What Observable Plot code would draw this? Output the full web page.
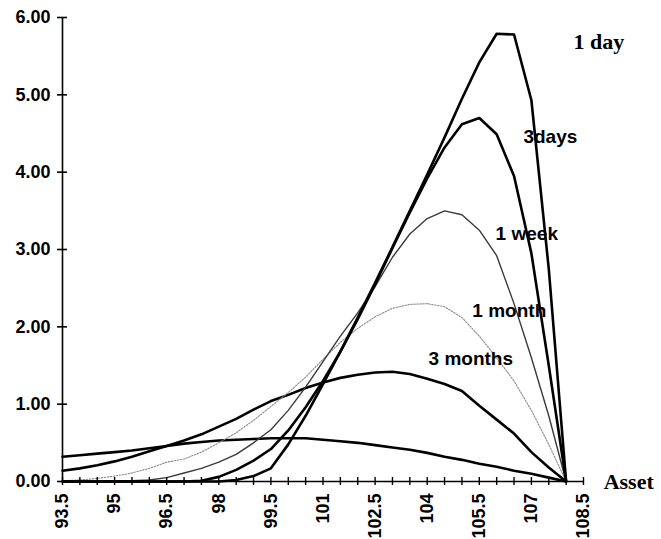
<!DOCTYPE html>
<html>
<head>
<meta charset="utf-8">
<script src="https://cdn.jsdelivr.net/npm/d3@7"></script>
<script src="https://cdn.jsdelivr.net/npm/@observablehq/plot@0.6"></script>
<style>
  html, body { margin: 0; padding: 0; background: #fff; }
  #chart svg { display: block; overflow: visible; }
</style>
</head>
<body>
<div id="chart"></div>
<script>
// Asset price grid (step 0.5)
const assetPrices = [93.5, 94, 94.5, 95, 95.5, 96, 96.5, 97, 97.5, 98, 98.5, 99, 99.5, 100, 100.5,
  101, 101.5, 102, 102.5, 103, 103.5, 104, 104.5, 105, 105.5, 106, 106.5, 107, 107.5, 108];

// Probability density by horizon
const oneDay = [0, 0, 0, 0, 0, 0, 0, 0, 0, 0, 0.02, 0.07, 0.17, 0.48, 0.85,
  1.26, 1.68, 2.12, 2.57, 3.03, 3.50, 3.97, 4.45, 4.95, 5.42, 5.79, 5.78, 4.93, 2.75, 0];
const threeDays = [0, 0, 0, 0, 0, 0, 0, 0, 0.01, 0.06, 0.15, 0.27, 0.42, 0.66, 0.96,
  1.30, 1.68, 2.10, 2.55, 3.02, 3.48, 3.92, 4.32, 4.62, 4.70, 4.49, 3.95, 2.95, 1.50, 0];
const oneWeek = [0, 0, 0, 0.01, 0.01, 0.02, 0.05, 0.11, 0.17, 0.25, 0.35, 0.50, 0.67, 0.92, 1.22,
  1.55, 1.88, 2.18, 2.52, 2.90, 3.20, 3.40, 3.50, 3.45, 3.25, 2.92, 2.30, 1.60, 0.85, 0];
const oneMonth = [0.01, 0.02, 0.04, 0.07, 0.11, 0.17, 0.25, 0.29, 0.38, 0.50, 0.63, 0.79, 0.97, 1.15, 1.35,
  1.58, 1.80, 1.98, 2.13, 2.24, 2.29, 2.30, 2.26, 2.12, 1.88, 1.60, 1.30, 0.92, 0.48, 0];
const threeMonths = [0.14, 0.17, 0.21, 0.26, 0.32, 0.39, 0.46, 0.53, 0.61, 0.71, 0.81, 0.93, 1.04, 1.12, 1.21,
  1.28, 1.34, 1.38, 1.41, 1.42, 1.39, 1.33, 1.26, 1.17, 0.98, 0.80, 0.62, 0.38, 0.18, 0];
const sixMonths = [0.32, 0.34, 0.36, 0.38, 0.40, 0.43, 0.46, 0.49, 0.51, 0.53, 0.54, 0.55, 0.56, 0.56, 0.56,
  0.54, 0.52, 0.50, 0.47, 0.44, 0.41, 0.37, 0.32, 0.28, 0.23, 0.19, 0.14, 0.10, 0.05, 0];

// Axis ticks
const yTicks = [0, 1, 2, 3, 4, 5, 6];
const xMinorTicks = d3.range(93.5, 108.51, 0.5);
const xTickLabels = ["93.5", "95", "96.5", "98", "99.5", "101", "102.5", "104", "105.5", "107", "108.5"];

// Curve labels: [text, x, y]
const curveLabels = [
  ["3days", 106.77, 4.45],
  ["1 week", 105.97, 3.20],
  ["1 month", 105.3, 2.21],
  ["3 months", 104.04, 1.59]
];
const serifLabels = [
  ["1 day", 108.21, 5.68],
  ["Asset", 109.08, 0]
];

const toRows = (values) => assetPrices.map((x, i) => ({x, y: values[i]}));

const heavy = {stroke: "#000", strokeWidth: 2.6, strokeLinejoin: "round", strokeLinecap: "round"};

const chart = Plot.plot({
  width: 661,
  height: 539,
  marginLeft: 62,
  marginRight: 78,
  marginTop: 17,
  marginBottom: 58,
  x: {type: "linear", domain: [93.5, 108.5], axis: null},
  y: {type: "linear", domain: [0, 6], axis: null},
  style: {background: "#fff", fontFamily: "'Liberation Sans', Arial, sans-serif"},
  marks: [
    // flattest curves first, steepest on top
    Plot.line(toRows(sixMonths), {x: "x", y: "y", ...heavy}),
    Plot.line(toRows(threeMonths), {x: "x", y: "y", ...heavy}),
    Plot.line(toRows(oneMonth), {x: "x", y: "y", stroke: "#8a8a8a", strokeWidth: 1.1, strokeDasharray: "1.5,1.5"}),
    Plot.line(toRows(oneWeek), {x: "x", y: "y", stroke: "#3a3a3a", strokeWidth: 1.4}),
    Plot.line(toRows(threeDays), {x: "x", y: "y", ...heavy}),
    Plot.line(toRows(oneDay), {x: "x", y: "y", ...heavy}),

    // axes: lines, crossing tick marks (no text), then labels
    Plot.ruleY([0], {stroke: "#000", strokeWidth: 1.6}),
    Plot.ruleX([93.5], {y1: 0, y2: 6, stroke: "#000", strokeWidth: 1.6}),
    Plot.axisY({ticks: yTicks, anchor: "left", tickSize: 10, dx: 5, fill: "none", label: null, stroke: "#000", strokeWidth: 1.6}),
    Plot.axisX({ticks: xMinorTicks, anchor: "bottom", tickSize: 8, dy: -4, fill: "none", label: null, stroke: "#000", strokeWidth: 1.4}),
    Plot.text(yTicks, {
      x: 93.5, y: (d) => d, text: (d) => d.toFixed(2),
      textAnchor: "end", dx: -12, fontSize: 18, fontWeight: "bold", fill: "#000"
    }),
    Plot.text(xTickLabels, {
      x: (d) => +d, y: 0, text: (d) => d,
      rotate: -90, textAnchor: "end", lineAnchor: "middle", dy: 12,
      fontSize: 18, fontWeight: "bold", fill: "#000"
    }),

    // curve labels
    Plot.text(curveLabels, {
      x: (d) => d[1], y: (d) => d[2], text: (d) => d[0],
      textAnchor: "start", fontSize: 19, fontWeight: "bold", fill: "#000"
    }),
    Plot.text(serifLabels, {
      x: (d) => d[1], y: (d) => d[2], text: (d) => d[0],
      textAnchor: "start", fontSize: 22, fontWeight: "bold", fill: "#000",
      fontFamily: "'Liberation Serif', 'Times New Roman', serif"
    })
  ]
});

document.getElementById("chart").appendChild(chart);
</script>
</body>
</html>
